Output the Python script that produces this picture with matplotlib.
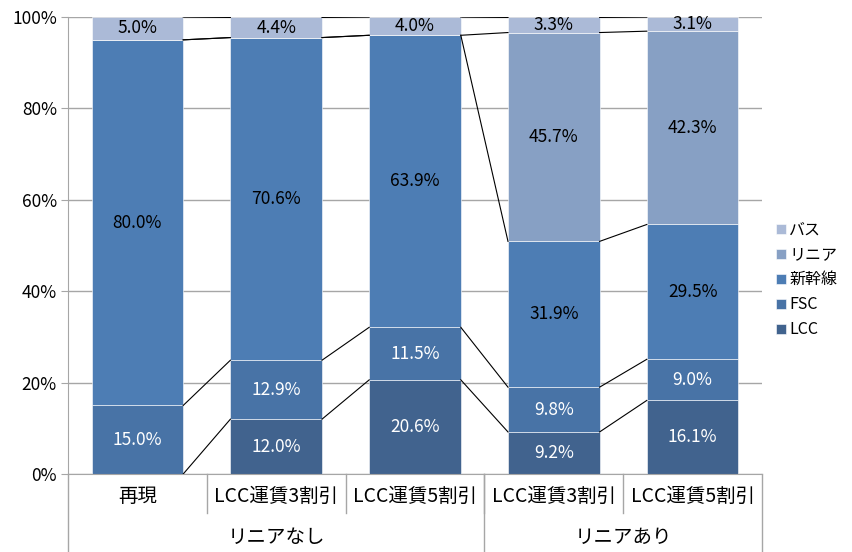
import numpy as np
import matplotlib.pyplot as plt
from matplotlib.transforms import blended_transform_factory

plt.rcParams['font.family'] = ['Noto Sans CJK JP', 'DejaVu Sans']

categories = ['再現', 'LCC運賃3割引', 'LCC運賃5割引', 'LCC運賃3割引', 'LCC運賃5割引']
groups = ['リニアなし', 'リニアあり']
group_sizes = [3, 2]
series_names = ['LCC', 'FSC', '新幹線', 'リニア', 'バス']
lcc = [0.0, 12.0, 20.6, 9.2, 16.1]
fsc = [15.0, 12.9, 11.5, 9.8, 9.0]
shinkansen = [80.0, 70.6, 63.9, 31.9, 29.5]
linear = [0.0, 0.0, 0.0, 45.7, 42.3]
bus = [5.0, 4.4, 4.0, 3.3, 3.1]

colors = ['#41638e', '#4873a6', '#4d7db4', '#87a0c4', '#abbad7']
label_colors = ['white', 'white', 'black', 'black', 'black']

data = [lcc, fsc, shinkansen, linear, bus]
fig = plt.figure(figsize=(8.52, 5.52), dpi=100)
ax = fig.add_axes([68 / 852, 78 / 552, (762 - 68) / 852, (474 - 17) / 552])

x = np.arange(len(categories))
width = 0.66
bottom = np.zeros(len(categories))
tops = []
for vals, name, c, lc in zip(data, series_names, colors, label_colors):
    vals = np.array(vals)
    ax.bar(x, vals, width, bottom=bottom, color=c, label=name, zorder=2,
           edgecolor='white', linewidth=0.4)
    for xi, v, b in zip(x, vals, bottom):
        if v > 0:
            ax.text(xi, b + v / 2, f'{v:.1f}%', ha='center', va='center',
                    fontsize=12.5, color=lc, zorder=4)
    bottom = bottom + vals
    tops.append(bottom.copy())

# series lines between bars
for t in tops:
    for i in range(len(categories) - 1):
        ax.plot([x[i] + width / 2, x[i + 1] - width / 2], [t[i], t[i + 1]],
                color='black', linewidth=0.8, zorder=3)

ax.set_xlim(-0.5, len(categories) - 0.5)
ax.set_ylim(0, 100)
ax.set_yticks(range(0, 101, 20))
ax.set_yticklabels([f'{v}%' for v in range(0, 101, 20)], fontsize=12.5)
ax.yaxis.grid(True, color='#a6a6a6', linewidth=1, zorder=0)
ax.set_axisbelow(True)
ax.set_xticks([])
ax.tick_params(axis='y', length=5, color='#a6a6a6', pad=3)
for s in ['top', 'right']:
    ax.spines[s].set_visible(False)
ax.spines['left'].set_color('#a6a6a6')
ax.spines['bottom'].set_color('#a6a6a6')

# two-level category axis
tr = blended_transform_factory(ax.transData, ax.transAxes)
for xi, cat in zip(x, categories):
    ax.text(xi, -0.05, cat, transform=tr, ha='center', va='center', fontsize=14)
for i in range(1, len(categories)):
    ax.plot([i - 0.5, i - 0.5], [0, -0.085], transform=tr, color='#a6a6a6',
            linewidth=1, clip_on=False)
start = 0
edges = [-0.5]
for g, n in zip(groups, group_sizes):
    ax.text(start + (n - 1) / 2, -0.138, g, transform=tr, ha='center',
            va='center', fontsize=14)
    start += n
    edges.append(start - 0.5)
for e in edges:
    ax.plot([e, e], [0, -0.171], transform=tr, color='#a6a6a6', linewidth=1,
            clip_on=False)

handles, labels = ax.get_legend_handles_labels()
ax.legend(handles[::-1], labels[::-1], loc='center left',
          bbox_to_anchor=(1.0, 0.425), frameon=False, fontsize=11.5,
          handlelength=0.6, handleheight=0.6, handletextpad=0.2,
          labelspacing=0.5, borderaxespad=0.5)

fig.savefig('out.png', dpi=100)
